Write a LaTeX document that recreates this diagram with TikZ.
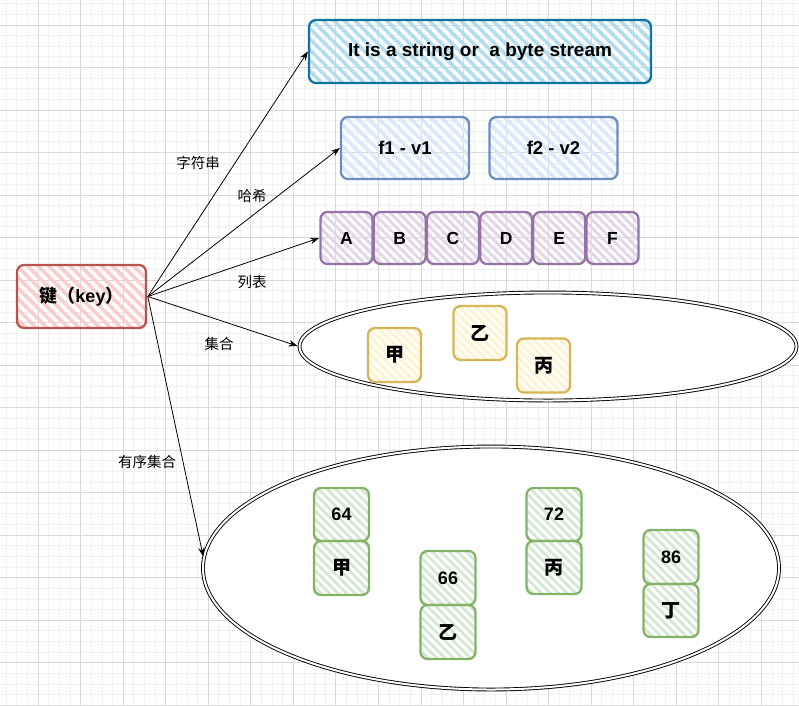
\documentclass[tikz,border=0pt]{standalone}
\usepackage{fontspec}
\setmainfont{Liberation Sans}
\newfontfamily\cjk{Noto Sans CJK SC}
\usetikzlibrary{shapes.geometric,patterns.meta,arrows.meta}
\definecolor{redS}{HTML}{B85450}\definecolor{redF}{HTML}{F8CECC}
\definecolor{blueS}{HTML}{10739E}\definecolor{blueF}{HTML}{B1DDF0}
\definecolor{hashS}{HTML}{6C8EBF}\definecolor{hashF}{HTML}{DAE8FC}
\definecolor{purS}{HTML}{9673A6}\definecolor{purF}{HTML}{E1D5E7}
\definecolor{yelS}{HTML}{D6B656}\definecolor{yelF}{HTML}{FFF2CC}
\definecolor{grnS}{HTML}{82B366}\definecolor{grnF}{HTML}{D5E8D4}
\definecolor{gridminor}{HTML}{F1F1F1}\definecolor{gridmajor}{HTML}{D9D9D9}
\begin{document}
\begin{tikzpicture}[x=1pt,y=-1pt,
  hatchbig/.style={pattern={Lines[angle=-45,distance=7.5pt,line width=3.6pt]}},
  hatchsmall/.style={pattern={Lines[angle=-45,distance=6pt,line width=2.8pt]}},
  sbox/.style={draw, line width=2.3pt, rounded corners=7pt, inner sep=0pt, align=center},
  keybox/.style={sbox, hatchbig, draw=redS, pattern color=redF, minimum width=129pt, minimum height=63pt, font=\fontsize{18}{21}\selectfont\bfseries},
  strbox/.style={sbox, hatchbig, draw=blueS, pattern color=blueF, minimum width=342pt, minimum height=63pt, font=\fontsize{19}{22}\selectfont\bfseries},
  hashbox/.style={sbox, hatchbig, draw=hashS, pattern color=hashF, minimum width=128pt, minimum height=62pt, font=\fontsize{18.5}{21}\selectfont\bfseries},
  listbox/.style={sbox, hatchsmall, draw=purS, pattern color=purF, minimum width=52pt, minimum height=52pt, font=\fontsize{17.5}{20}\selectfont\bfseries},
  setbox/.style={sbox, hatchsmall, draw=yelS, pattern color=yelF, minimum width=53pt, minimum height=54pt, font=\cjk\fontsize{19}{22}\selectfont\bfseries},
  zbox/.style={sbox, hatchsmall, draw=grnS, pattern color=grnF, minimum width=55pt, minimum height=53pt, font=\fontsize{18}{21}\selectfont\bfseries},
  zcjk/.style={zbox, font=\cjk\fontsize{19}{22}\selectfont\bfseries},
  ell/.style={ellipse, draw=black, fill=white, line width=0.9pt, double=white, double distance=2pt, inner sep=0pt},
  lbl/.style={font=\cjk\fontsize{14.5}{17}\selectfont, inner sep=0pt},
  arr/.style={-{Stealth[length=9pt,width=6.5pt]}, line width=0.8pt, black}
]
\useasboundingbox (0,0) rectangle (799,705);
% grid
\foreach \i in {-4,...,72} {
  \draw[gridminor, line width=1pt] ({38.2+\i*10.635},0) -- ({38.2+\i*10.635},705);
}
\foreach \i in {-3,...,64} {
  \draw[gridminor, line width=1pt] (0,{25+\i*10.63}) -- (799,{25+\i*10.63});
}
\foreach \i in {-1,...,18} {
  \draw[gridmajor, line width=1pt] ({38.2+\i*42.54},0) -- ({38.2+\i*42.54},705);
}
\foreach \i in {0,...,16} {
  \draw[gridmajor, line width=1pt] (0,{25+\i*42.52}) -- (799,{25+\i*42.52});
}

% ellipses
\node[ell, minimum width=497pt, minimum height=108pt] (setE) at (548,346.5) {};
\node[ell, minimum width=576pt, minimum height=243pt] (sortE) at (491,568) {};

% key
\node[keybox] (key) at (81.5,296.5) {{\cjk 键（}key{\cjk ）}};

% string
\node[strbox] (str) at (480,51.5) {It is a string or\ \ a byte stream};

% hash
\node[hashbox] (f1) at (405,148) {f1 - v1};
\node[hashbox] (f2) at (553.5,148) {f2 - v2};

% list
\node[listbox] (lA) at (346.5,238) {A};
\node[listbox] (lB) at (399.7,238) {B};
\node[listbox] (lC) at (452.9,238) {C};
\node[listbox] (lD) at (506.1,238) {D};
\node[listbox] (lE) at (559.3,238) {E};
\node[listbox] (lF) at (612.5,238) {F};

% set
\node[setbox] (s1) at (394.5,355) {甲};
\node[setbox] (s2) at (480,333) {乙};
\node[setbox] (s3) at (543.5,365.5) {丙};

% sorted set
\node[zbox] (z1s) at (341.5,514.5) {64};
\node[zcjk, minimum height=54pt] (z1m) at (341.5,568) {甲};
\node[zbox, minimum height=54pt] (z2s) at (448,578) {66};
\node[zcjk, minimum height=54pt] (z2m) at (448,632) {乙};
\node[zbox] (z3s) at (554,514.5) {72};
\node[zcjk] (z3m) at (554,567.5) {丙};
\node[zbox, minimum height=54pt] (z4s) at (671,557) {86};
\node[zcjk] (z4m) at (671,610.5) {丁};

% arrows
\draw[arr] (key.east) -- (str.west);
\draw[arr] (key.east) -- (f1.west);
\draw[arr] (key.east) -- (lA.west);
\draw[arr, shorten >=1.5pt] (key.east) -- (setE.west);
\draw[arr, shorten >=1.5pt] (key.east) -- (sortE.178);

% labels
\node[lbl] (t1) at (198,163) {字符串};
\node[lbl] (t2) at (252,196) {哈希};
\node[lbl] (t3) at (252,282) {列表};
\node[lbl] (t4) at (219,344) {集合};
\node[lbl] (t5) at (147,462) {有序集合};
\end{tikzpicture}
\end{document}
